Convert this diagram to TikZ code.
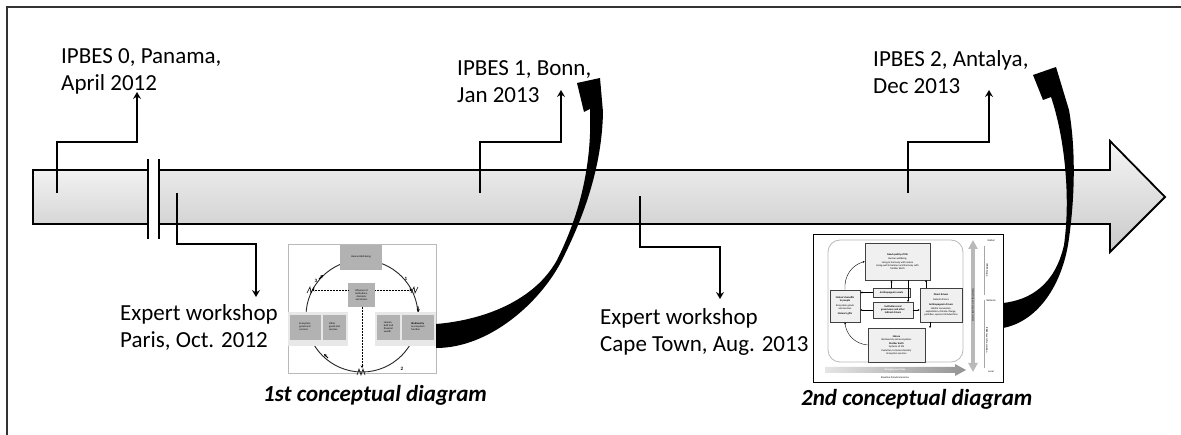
\documentclass[tikz,border=0pt]{standalone}
\usepackage{fontspec}
\setmainfont{Carlito}
\usetikzlibrary{arrows.meta}
\begin{document}
\begin{tikzpicture}[x=1pt,y=-1pt,
  conn/.style={line width=2pt, -{Stealth[length=7pt,width=8pt,inset=2.5pt]}},
  lbl/.style={font=\fontsize{23}{27}\selectfont, align=left, anchor=base west, inner sep=0pt},
  capt/.style={font=\fontsize{23}{27}\selectfont\bfseries\itshape, anchor=base west, inner sep=0pt},
  tiny/.style={font=\fontsize{2.6}{3}\selectfont, align=center, inner sep=0pt},
  gbox/.style={fill=gray!60},
  mbox/.style={draw=black!75, line width=0.6pt, fill=gray!12},
  ctip/.style={line width=0.8pt, -{Stealth[length=3pt,width=3pt]}},
  bigarrow/.style={fill=black}]
\useasboundingbox (0,0) rectangle (1181,435);
\fill[white] (0,0) rectangle (1181,435);
% frame
\draw[line width=1.5pt, black!80] (7,435) -- (7,7) -- (1181,7);

% main timeline arrow
\path[draw=black, line width=1.8pt, top color=gray!8, bottom color=gray!42]
  (159,170) -- (1110,170) -- (1110,141) -- (1165,197) -- (1110,252) -- (1110,224) -- (159,224) -- cycle;
\path[draw=black, line width=1.8pt, top color=gray!10, bottom color=gray!32]
  (33,170) rectangle (148,224);
\fill[white] (149,168) rectangle (158,226);
\draw[line width=1.4pt] (148,159) -- (148,239);
\draw[line width=1.4pt] (159,159) -- (159,239);

% text labels (anchor = baseline of last line)
\node[lbl] (t0) at (61,91) {IPBES 0, Panama,\\April 2012};
\node[lbl] (t1) at (120,348) {Expert workshop\\Paris, Oct. 2012};
\node[lbl] (t2) at (457,103) {IPBES 1, Bonn,\\Jan 2013};
\node[lbl] (t3) at (600,352) {Expert workshop\\Cape Town, Aug. 2013};
\node[lbl] (t4) at (873,94) {IPBES 2, Antalya,\\Dec 2013};

% connectors
\coordinate (s0) at (57,193);   \coordinate (e0) at (137,92);
\coordinate (s1) at (177,193);  \coordinate (e1) at (256,297);
\coordinate (s2) at (480,193);  \coordinate (e2) at (561,90);
\coordinate (s3) at (640,196);  \coordinate (e3) at (720,299);
\coordinate (s4) at (908,193);  \coordinate (e4) at (989,90);
\draw[conn] (s0) -- ([yshift=51pt]s0) -| (e0);
\draw[conn] (s1) -- ([yshift=-51pt]s1) -| (e1);
\draw[conn] (s2) -- ([yshift=51pt]s2) -| (e2);
\draw[conn] (s3) -- ([yshift=-51pt]s3) -| (e3);
\draw[conn] (s4) -- ([yshift=51pt]s4) -| (e4);

% ---------- thumbnail 1 ----------
\node[draw=gray!55, line width=0.8pt, fill=white, minimum width=148pt, minimum height=129pt, inner sep=0pt, anchor=north west] (th1) at (288,244) {};
\draw[line width=0.9pt, black!85] (362,316) circle[radius=56pt];
\draw[ctip] (319,279) -- (323,275);
\draw[ctip] (418,306) -- (418.5,312);
\draw[ctip] (328,358) -- (324,354);
\fill[gray!18] (288,312) rectangle (348,346);
\fill[gray!18] (375,312) rectangle (436,346);
\fill[gbox] (290,315) rectangle (321,340);
\fill[gbox] (323,315) rectangle (346,340);
\fill[gbox] (377,315) rectangle (400,340);
\fill[gbox] (402,315) rectangle (434,340);
\fill[gbox] (340,245) rectangle (382,270);
\fill[gbox] (348,283) rectangle (375,307);
\node[tiny] at (361,257) {Human Well-being};
\node[tiny] at (361.5,295) {Influence of\\institutions,\\decisions\\and drivers};
\node[tiny, align=left] at (305,327) {Ecosystem\\goods and\\services};
\node[tiny, align=left] at (334.5,327) {Other\\goods and\\services};
\node[tiny, align=left] at (388.5,327) {Human,\\built and\\financial\\wealth};
\node[tiny, align=left] at (418,327) {\textbf{Biodiversity}\\\& ecosystem\\function};
\draw[densely dotted, line width=0.5pt, -{Stealth[length=2.5pt,width=2.5pt]}] (348,290) -- (312,290);
\draw[densely dotted, line width=0.5pt, -{Stealth[length=2.5pt,width=2.5pt]}] (375,290) -- (412,290);
\draw[densely dotted, line width=0.5pt, -{Stealth[length=2.5pt,width=2.5pt]}] (362,307) -- (362,368);
\draw[line width=0.6pt] (307,293) -- (310,287) -- (311,293) -- (314,287);
\draw[line width=0.6pt] (411,293) -- (414,287) -- (415,293) -- (418,287);
\draw[line width=0.6pt] (357,375) -- (359,369) -- (361,375) -- (363,369) -- (365,375);
\node[font=\fontsize{5}{5}\selectfont\bfseries, inner sep=0pt] at (316,281) {3};
\node[font=\fontsize{5}{5}\selectfont\bfseries, inner sep=0pt] at (406,279) {1};
\node[font=\fontsize{5}{5}\selectfont\bfseries, inner sep=0pt] at (402,369) {2};
\node[capt] (c1) at (263,402) {1st conceptual diagram};

% ---------- thumbnail 2 ----------
\node[draw=black, line width=1.2pt, fill=white, minimum width=190pt, minimum height=148pt, inner sep=0pt, anchor=north west] (th2) at (813,234) {};
\draw[gray!55, line width=0.8pt, rounded corners=12pt] (828,240) rectangle (963,362);
\node[mbox, minimum width=65pt, minimum height=37pt, inner sep=0pt] (q) at (897.5,261.5) {};
\node[tiny] at (897.5,261.5) {\textbf{Good quality of life}\\[1pt]Human wellbeing\\[1pt]Living in harmony with nature\\Living-well in balance and harmony with\\Mother Earth};
\node[mbox, minimum width=30pt, minimum height=32pt, inner sep=0pt] (nb) at (845,306) {};
\node[tiny] at (845,306) {\textbf{Nature's benefits}\\\textbf{to people}\\[2pt]Ecosystem goods\\and services\\[2pt]\textbf{Nature's gifts}};
\node[mbox, minimum width=37pt, minimum height=9pt, inner sep=0pt] (aa) at (891.5,292.5) {};
\node[tiny] at (891.5,292.5) {\textbf{Anthropogenic assets}};
\node[mbox, minimum width=40pt, minimum height=16pt, inner sep=0pt] (ig) at (893,310) {};
\node[tiny] at (893,310) {\textbf{Institutions and}\\\textbf{governance and other}\\\textbf{indirect drivers}};
\node[mbox, minimum width=42pt, minimum height=34pt, inner sep=0pt] (dd) at (941,305) {};
\node[tiny] at (941,305) {\textbf{Direct drivers}\\[2pt]Natural drivers\\[2pt]\textbf{Anthropogenic drivers}\\[1pt]Habitat conversion,\\exploitation, climate change,\\pollution, species introductions};
\node[mbox, minimum width=57pt, minimum height=34pt, inner sep=0pt] (na) at (896.5,345) {};
\node[tiny] at (896.5,345) {\textbf{Nature}\\Biodiversity and ecosystems\\[1pt]\textbf{Mother Earth}\\Systems of life\\[1pt]Evolution, Inclusive diversity\\Ecosystem services};
\draw[line width=0.4pt, -{Stealth[length=2pt,width=2pt]}] (na.west) to[bend left=40] (nb.south);
\draw[line width=0.4pt, -{Stealth[length=2pt,width=2pt]}] (nb.north) to[bend left=40] (q.west);
\draw[line width=0.4pt, -{Stealth[length=2pt,width=2pt]}] (aa.west) -- (nb.east |- aa.west);
\draw[line width=0.4pt, -{Stealth[length=2pt,width=2pt]}] (ig.west) -- (nb.east |- ig.west);
\draw[line width=0.4pt, -{Stealth[length=2pt,width=2pt]}] (aa.north) -- (aa.north |- q.south);
\draw[line width=0.4pt, -{Stealth[length=2pt,width=2pt]}] (ig.east) -- (dd.west |- ig.east);
\draw[line width=0.4pt, -{Stealth[length=2pt,width=2pt]}] (908,280) -- (908,302);
\draw[line width=0.4pt, -{Stealth[length=2pt,width=2pt]}] (926,288) -- (926,280);
\draw[line width=0.4pt, -{Stealth[length=2pt,width=2pt]}] (930,322) -- (930,328);
\draw[gray!55, line width=3.5pt, {Triangle[length=9pt,width=9pt]}-{Triangle[length=9pt,width=9pt]}] (973,240) -- (973,372);
\node[tiny, rotate=-90] at (973,305) {Interacting across spatial scales};
\draw[gray!70, line width=0.5pt] (984,246) -- (984,295);
\draw[gray!70, line width=0.5pt] (984,300) -- (984,368);
\node[tiny, rotate=-90] at (987,270) {IPBES Scope};
\node[tiny, rotate=-90] at (987,340) {IPBES level of resolution};
\node[tiny] at (991,241) {Global};
\node[tiny] at (991,301) {National};
\node[tiny] at (991,372) {Local};
\shade[left color=gray!20, right color=gray!85]
  (825,367) -- (955,367) -- (955,364) -- (966,370) -- (955,376) -- (955,373) -- (825,373) -- cycle;
\node[tiny, text=white] at (895,370) {\textbf{Changing over time}};
\node[tiny] at (895,378) {Baseline-Trends-Scenarios};
\node[capt] (c2) at (801,406) {2nd conceptual diagram};

% ---------- big curved arrows ----------
\fill[bigarrow]
  (436,348) .. controls (490,348) and (540,302) .. (561,262)
  .. controls (585,215) and (602,165) .. (603,112)
  -- (600,78) -- (577,83) -- (584,112) -- (590,109)
  .. controls (592,160) and (582,210) .. (557,260)
  .. controls (535,300) and (485,320) .. (436,324) -- cycle;
\fill[bigarrow]
  (1003,328) .. controls (1035,322) and (1060,290) .. (1068,245)
  .. controls (1075,200) and (1076,150) .. (1069,110)
  -- (1056,67) -- (1033,75) -- (1043,100) -- (1051,97)
  .. controls (1064,135) and (1071,195) .. (1064,245)
  .. controls (1055,285) and (1030,300) .. (1003,303) -- cycle;
\end{tikzpicture}
\end{document}
